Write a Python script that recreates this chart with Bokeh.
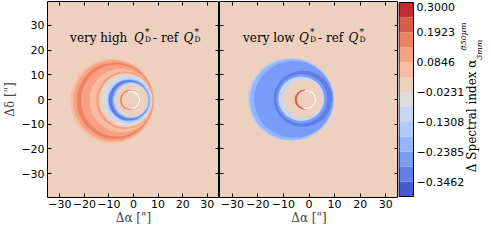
import numpy as np
from bokeh.plotting import figure
from bokeh.models import (ColumnDataSource, LinearColorMapper, FixedTicker, LinearAxis, Range1d)
from bokeh.transform import transform
from bokeh.layouts import row
from bokeh.embed import file_html
from bokeh.resources import INLINE
from bokeh.core.properties import value

# ---------------- data ----------------
axis_ticks = [-30, -20, -10, 0, 10, 20, 30]
axis_tick_labels = ["\u221230", "\u221220", "\u221210", "0", "10", "20", "30"]

cbar_levels = [-0.4, -0.3462, -0.2923, -0.2385, -0.1846, -0.1308, -0.0769,
               -0.0231, 0.0308, 0.0846, 0.1385, 0.1923, 0.2462, 0.3]
cbar_ticks = [0.3, 0.1923, 0.0846, -0.0231, -0.1308, -0.2385, -0.3462]
cbar_tick_labels = ["0.3000", "0.1923", "0.0846", "\u22120.0231", "\u22120.1308",
                    "\u22120.2385", "\u22120.3462"]

# "very high Q*D - ref Q*D": rings painted from the outside in
high_cx = [-8.6, -8.2, -7.6, -6.8, -5.0, -3.6, -3.2, -2.6, -2.3, -1.8, -1.9, -1.2, -0.9, -0.8, -1.4, -1.0]
high_cy = [-0.6, -0.5, -0.5, -0.4, -0.4, -0.3, -0.3, -0.3, -0.3, -0.3, -0.3, -0.3, -0.3, -0.3, -0.2, -0.2]
high_r = [17.1, 16.4, 15.5, 14.6, 12.9, 11.6, 10.9, 10.1, 9.6, 8.6, 8.2, 7.4, 7.0, 6.5, 4.1, 3.8]
high_val = [0.06, 0.12, 0.16, 0.12, 0.06, 0.10, 0.0, -0.05, -0.10, -0.22, -0.31, -0.20, -0.10, 0.0, 0.16, 0.0]
high_arc_cx = [-1.0]
high_arc_cy = [-0.2]
high_arc_r = [3.5]
high_arc_start = [-80]
high_arc_end = [110]

# "very low Q*D - ref Q*D"
low_cx = [-7.0, -6.8, -6.0, -2.4, -2.8, -3.0, -2.3, -1.6, -1.1]
low_cy = [0.0, 0.0, 0.1, 0.3, 0.3, 0.3, 0.3, 0.0, 0.0]
low_r = [16.8, 16.3, 15.5, 11.4, 10.0, 9.0, 7.6, 4.0, 3.7]
low_val = [-0.15, -0.21, -0.27, -0.31, -0.27, -0.12, 0.0, 0.2, 0.0]
low_arc_cx = [-1.0]
low_arc_cy = [0.0]
low_arc_r = [3.5]
low_arc_start = [-110]
low_arc_end = [100]

# ---------------- colour map (coolwarm, 13 filled levels) ----------------
cw_table = [
    (0.0, 59, 76, 192), (0.03125, 68, 90, 204), (0.0625, 77, 104, 215), (0.09375, 87, 117, 225),
    (0.125, 98, 130, 234), (0.15625, 108, 142, 241), (0.1875, 119, 154, 247), (0.21875, 130, 165, 251),
    (0.25, 141, 176, 254), (0.28125, 152, 185, 255), (0.3125, 163, 194, 255), (0.34375, 174, 201, 253),
    (0.375, 184, 208, 249), (0.40625, 194, 213, 244), (0.4375, 204, 217, 238), (0.46875, 213, 219, 230),
    (0.5, 221, 221, 221), (0.53125, 229, 216, 209), (0.5625, 236, 211, 197), (0.59375, 241, 204, 185),
    (0.625, 245, 196, 173), (0.65625, 247, 187, 160), (0.6875, 247, 177, 148), (0.71875, 247, 166, 135),
    (0.75, 244, 154, 123), (0.78125, 241, 141, 111), (0.8125, 236, 127, 99), (0.84375, 229, 112, 88),
    (0.875, 222, 96, 77), (0.90625, 213, 80, 66), (0.9375, 203, 62, 56), (0.96875, 192, 40, 47),
    (1.0, 180, 4, 38)]
_pos = np.array([t[0] for t in cw_table])
_rgb = np.array([t[1:] for t in cw_table], dtype=float)


def coolwarm(t):
    c = [int(round(np.interp(t, _pos, _rgb[:, k]))) for k in range(3)]
    return "#%02x%02x%02x" % tuple(c)


n_bands = len(cbar_levels) - 1
palette = [coolwarm((i + 0.5) / n_bands) for i in range(n_bands)]
mapper = LinearColorMapper(palette=palette, low=cbar_levels[0], high=cbar_levels[-1])

# ---------------- layout constants ----------------
H = 227
TOP = 1
BOTTOM = 27
FRAME_W = 179
LEFT_B = 40
CBF_W = 85      # colour-bar figure width (bar + tick labels + title)
CB_W = 15       # colour-bar width in pixels
TICK_FONT = "DejaVu Sans"
SERIF = "DejaVu Serif"


def style_axis(ax, labels=True):
    ax.ticker = FixedTicker(ticks=axis_ticks)
    ax.major_label_overrides = dict(zip(axis_ticks, axis_tick_labels))
    ax.major_tick_in = 4
    ax.major_tick_out = 0
    ax.minor_tick_in = 0
    ax.minor_tick_out = 0
    ax.axis_line_color = None
    ax.major_tick_line_color = "black"
    ax.major_label_text_font = TICK_FONT
    ax.major_label_standoff = 2
    ax.axis_label_standoff = 0
    ax.axis_label_text_font = SERIF
    ax.axis_label_text_font_size = "12px"
    ax.axis_label_text_font_style = "normal"
    if labels:
        ax.major_label_text_font_size = "11px"
        ax.major_label_text_color = "black"
    else:
        ax.major_label_text_font_size = "0px"
        ax.major_label_text_color = None
        ax.major_label_standoff = 0


def make_panel(cx, cy, r, val, acx, acy, ar, a0, a1, prefix, q_off, with_left):
    width = FRAME_W + (LEFT_B if with_left else 0)
    p = figure(width=width, height=H, x_range=Range1d(-35, 35), y_range=Range1d(-39.6, 39.6),
               output_backend="svg", toolbar_location=None,
               x_axis_location=None, y_axis_location=None,
               min_border_left=LEFT_B if with_left else 0, min_border_right=0,
               min_border_top=TOP, min_border_bottom=BOTTOM,
               background_fill_color=palette[7], border_fill_color="white",
               outline_line_color="black", outline_line_width=1)
    p.grid.visible = False

    src = ColumnDataSource(dict(x=cx, y=cy, d=[2 * v for v in r], val=val))
    p.ellipse(x="x", y="y", width="d", height="d", source=src,
              fill_color=transform("val", mapper), line_color=None)
    p.arc(x=acx, y=acy, radius=ar, start_angle=a0, end_angle=a1,
          start_angle_units="deg", end_angle_units="deg",
          line_color="white", line_width=1.2, line_alpha=0.9)

    # axes: labels only bottom (and left on first panel), inward ticks on all sides
    below = LinearAxis(axis_label="\u0394\u03b1 [\"]")
    style_axis(below)
    p.add_layout(below, "below")
    above = LinearAxis()
    style_axis(above, labels=False)
    p.add_layout(above, "above")
    left = LinearAxis(axis_label="\u0394\u03b4 [\"]" if with_left else None)
    style_axis(left, labels=with_left)
    if with_left:
        left.major_label_standoff = 3
        left.axis_label_standoff = 1
    p.add_layout(left, "left")
    right = LinearAxis()
    style_axis(right, labels=False)
    p.add_layout(right, "right")

    # panel title with sub/superscripts
    tx, ty = -25.8, 25.0
    pieces = [
        (prefix, 0, 0, "12px", "normal"),
        ("Q", q_off, 0, "12px", "italic"),
        ("*", q_off + 11, -6, "9px", "normal"),
        ("D", q_off + 11, 2, "7.5px", "normal"),
        (" - ref ", q_off + 19, 0, "12px", "normal"),
        ("Q", q_off + 49.5, 0, "12px", "italic"),
        ("*", q_off + 60.5, -6, "9px", "normal"),
        ("D", q_off + 60.5, 2, "7.5px", "normal"),
    ]
    for txt, xo, yo, fs, st in pieces:
        p.text(x=[tx], y=[ty], text=[txt], x_offset=xo, y_offset=yo,
               text_font=value(SERIF), text_font_size=fs, text_font_style=st,
               text_color="black", text_align="left", text_baseline="alphabetic")
    return p


p1 = make_panel(high_cx, high_cy, high_r, high_val, high_arc_cx, high_arc_cy, high_arc_r,
                high_arc_start, high_arc_end, "very high ", 64, True)
p2 = make_panel(low_cx, low_cy, low_r, low_val, low_arc_cx, low_arc_cy, low_arc_r,
                low_arc_start, low_arc_end, "very low ", 56, False)

# ---------------- colour bar (its own figure, frame spans bar, labels and title) ----------------
frame_h = H - TOP - BOTTOM
px = (cbar_levels[-1] - cbar_levels[0]) / frame_h   # one pixel in data units
pc = figure(width=CBF_W, height=H, x_range=Range1d(0, CBF_W),
            y_range=Range1d(cbar_levels[0] - px, cbar_levels[-1] + TOP * px),
            output_backend="svg", toolbar_location=None,
            x_axis_location=None, y_axis_location=None,
            min_border_left=0, min_border_right=0,
            min_border_top=0, min_border_bottom=BOTTOM - 1,
            outline_line_color=None, background_fill_color="white",
            border_fill_color="white")
pc.grid.visible = False
mids = [(a + b) / 2 for a, b in zip(cbar_levels[:-1], cbar_levels[1:])]
csrc = ColumnDataSource(dict(bottom=cbar_levels[:-1], top=cbar_levels[1:], mid=mids))
pc.quad(left=0, right=CB_W, bottom="bottom", top="top", source=csrc,
        fill_color=transform("mid", mapper), line_color=None)
pc.quad(left=[0.5], right=[CB_W], bottom=[cbar_levels[0]], top=[cbar_levels[-1]],
        fill_color=None, line_color="black", line_width=1)
label_shift = [5 if t == max(cbar_ticks) else 0 for t in cbar_ticks]   # keep top label inside
tsrc = ColumnDataSource(dict(y=cbar_ticks, text=cbar_tick_labels, dy=label_shift))
pc.text(x=CB_W, y="y", text="text", source=tsrc, x_offset=3, y_offset="dy",
        text_font=value(TICK_FONT), text_font_size="11px", text_color="black",
        text_align="left", text_baseline="middle")

lab_kw = dict(angle=90, angle_units="deg", text_font=value(SERIF), text_color="black",
              text_align="left", text_baseline="middle")
pc.text(x=[73], y=[-0.312], text=["\u0394 Spectral index \u03b1"],
        text_font_size="12px", **lab_kw)
pc.text(x=[65], y=[0.127], text=["850\u03bcm"], text_font_size="8px",
        text_font_style="italic", **lab_kw)
pc.text(x=[80.5], y=[0.093], text=["3mm"], text_font_size="8px",
        text_font_style="italic", **lab_kw)

layout = row(p1, p2, pc)
open("out.html", "w").write(file_html(layout, INLINE))
